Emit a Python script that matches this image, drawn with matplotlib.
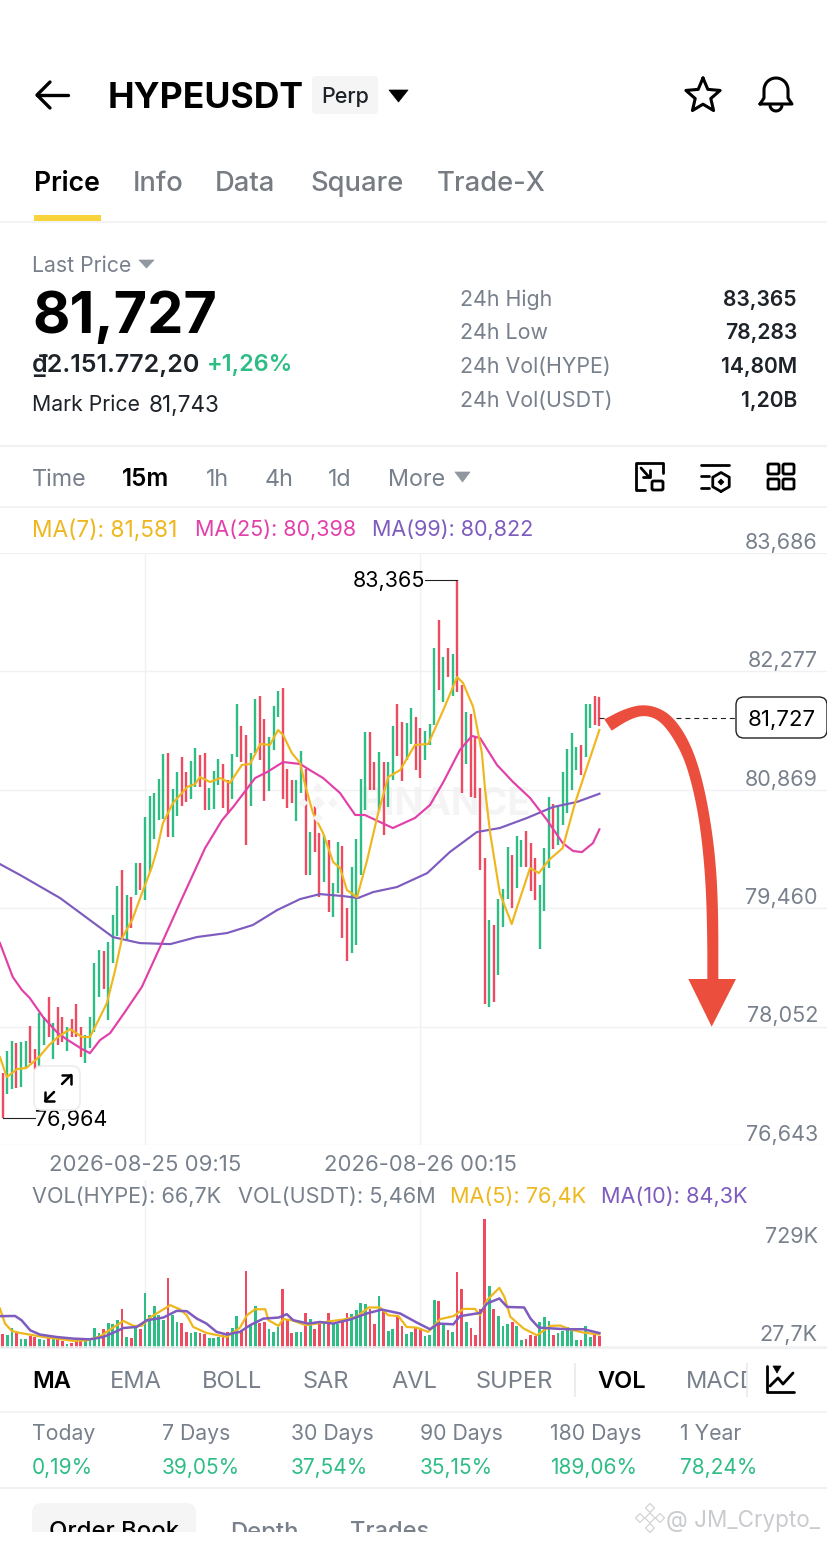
import numpy as np
import matplotlib
matplotlib.use("Agg")
import matplotlib.pyplot as plt
from matplotlib.patches import FancyBboxPatch, Polygon, Rectangle

plt.rcParams['font.family'] = ['Inter', 'DejaVu Sans']

# ---------- data ----------
candle_colors = ("rggrggrrgg" "rgrrgrrrgg" "ggrgggrgrg" "rgggggrggr" "rggrrgggrr"
                 "ggrrggrrgg" "grrrggrgrr" "grggrrgggg" "rrgrggrrgg" "rrgggrgrgr"
                 "rgrrrrgrgg" "grggrrrggg" "rgggggrggrr")
highs = [77498,77760,77879,77855,77867,77879,78058,77784,78212,78165,
         78403,78093,78284,78165,78046,78141,78319,78046,77950,78165,
         78807,78962,78950,79057,79378,79724,79914,79616,79593,79997,
         79997,80545,80795,80830,80997,81294,81306,80878,81080,81259,
         81080,81211,81366,81282,81306,80890,81092,81235,81175,80985,
         81294,81889,81628,81520,81306,81949,81985,81711,81497,81866,
         82044,82080,81116,80985,80985,81330,81116,80366,80711,80354,
         80330,80271,79759,80247,80200,79462,79950,80283,80997,81556,
         81556,81199,81318,81199,81199,81628,81889,81675,81663,81842,
         81735,81604,81568,81651,82556,82889,82449,82556,82484,83365,
         82115,81794,81770,81497,80890,80057,79319,79259,79569,79688,
         80188,80092,80319,80271,80378,80235,80057,79735,80176,80783,
         80699,80664,81080,81354,81544,81378,81401,81889,81889,81985,81973]
lows = [76964,77248,77308,77320,77332,77570,77617,77534,77570,77831,
        77927,77665,77831,77867,77760,77927,77927,77689,77617,77796,
        77986,78403,78498,78129,78807,79129,79105,79081,79224,79616,
        79676,79557,79890,80283,80509,80521,80307,80307,80557,80676,
        80723,80759,80902,80902,80628,80628,80640,80925,80652,80580,
        80759,81259,81199,80211,80676,81306,81223,80735,80854,81342,
        81735,80759,80652,80711,80497,80830,79854,79854,80128,79593,
        79771,79414,79355,79640,79105,78831,78926,79021,79854,80628,
        80866,80866,80628,80330,80664,80985,81271,80973,81223,81413,
        81104,81009,81223,81401,81639,82056,81913,82211,81985,82032,
        80830,81175,80783,80771,79914,78319,78284,78343,78664,79236,
        79569,79462,79700,79950,79950,79664,79557,78974,79426,79938,
        80164,80211,80449,80592,80866,81104,81044,81259,81604,81639,81628]

ma7_idx = [-0.6,0.9,3.1,5.1,7.9,10.1,12,14.7,17.3,19,21.2,22.7,24.5,26,28.2,30.6,32.5,33.6,34.9,37.1,
           40.2,41.9,43,45.2,47.4,49.5,52.1,53.9,56.1,58.2,60,61.1,63,64.8,65.9,67.6,69.8,72,73.5,75,
           77.2,79.4,81.8,84,86.6,89.8,92.7,96,99,100.3,102.5,104.4,105.1,106.2,108.3,110.9,112,114.9,
           116.8,119,122,124.7,127.3,130]
ma7_val = [77689,77451,77546,77558,77689,77831,77927,78022,77927,77927,78165,78331,78724,79105,79319,79676,79950,80152,80473,80711,
           80902,80937,81021,80961,81009,80950,81164,81176,81414,81402,81580,81520,81306,81187,80925,80592,80354,80009,79938,79676,
           79592,80033,80592,81021,81104,81402,81414,81818,82211,82139,81854,81306,80866,80354,79640,79271,79462,79938,
           79878,80033,80176,80711,81140,81581]
ma25_idx = [-0.6,2.2,4.2,5.9,8.8,12,14.2,17.3,19,21.2,23.4,26.6,30.3,34.3,38.6,44.1,47.8,50.2,55,57.6,
            61.1,64.8,66.9,69.8,73.5,76.8,78.9,85,89.8,93.1,96,99.6,102.2,104,107.7,111.2,114.9,118.6,122,124.3,126.2,128.6,130]
ma25_val = [79045,78641,78486,78391,78165,77974,77891,77784,77736,77891,77974,78224,78522,79000,79521,80176,80509,80664,81009,81080,
            81199,81176,81104,81009,80830,80569,80569,80414,80533,80688,80961,81342,81509,81485,81164,80961,80771,80509,80235,80140,80128,80235,80398]
ma99_idx = [-0.6,3.8,12.5,18.4,24,29.9,36.5,42.3,48.9,54.5,59.8,64.8,69.1,74.1,77.4,80.7,85.9,92.5,97.4,103.3,108.3,114.2,119.9,125.1,130]
ma99_val = [79985,79855,79581,79343,79117,79045,79033,79117,79165,79260,79438,79569,79628,79605,79581,79652,79712,79878,80128,80366,80414,80533,80664,80724,80822]

volumes = [81,72,115,91,49,49,66,62,53,47,57,53,66,40,25,30,40,53,40,43,
           115,85,106,144,134,157,221,62,57,115,110,312,185,236,189,161,395,185,147,142,
           91,85,91,85,81,55,55,62,72,93,115,180,104,437,129,236,144,147,106,91,
           119,331,161,87,91,89,198,163,110,138,147,198,134,138,157,200,191,214,257,246,
           223,134,295,214,96,110,176,125,77,89,119,115,66,76,274,266,134,100,91,427,
           336,146,113,76,219,729,353,219,183,123,136,149,123,47,53,76,66,149,174,151,
           72,85,96,119,96,47,47,127,60,79,66.7]
vma5_idx = [-0.6,0.5,2,3.8,6.7,8.9,11.8,15.4,18.3,21.2,23.4,26.3,28.5,30.3,32.1,36.5,38.6,40.1,41.5,44.4,48.8,51.7,53.2,55,57.2,57.9,60.1,61.1,63,
            66,68.4,71.3,74.2,77.1,79.7,82.2,84,86.2,88,90.2,92.7,95.3,98.2,100.4,102.9,104,105.5,108.2,109.3,110.6,113.5,116.4,119.3,121.5,123.7,126.6,130]
vma5_val = [223,138,96,85,72,62,53,40,43,66,104,153,125,125,172,242,219,185,119,85,62,115,185,219,219,157,125,163,157,
            129,138,151,161,176,229,229,185,180,119,115,91,163,180,221,221,185,270,340,289,176,110,72,125,127,104,87,76.4]
vma10_idx = [-0.6,2.7,4.1,6,8.1,11.8,15.4,19,21.9,24.5,26.3,29.2,31.4,35,37.9,40.1,42.3,44.4,46.6,48.8,51.7,53.9,56.8,60.1,61.9,63.3,66.6,
             69.1,72,75.7,79.3,82.6,86.6,90.2,93.1,94.9,98.2,99.6,104,105.5,108.2,109.9,113.6,115,116.8,120.1,123,126.6,130]
vma10_val = [180,181,157,100,76,62,53,49,62,91,113,119,157,172,210,208,166,138,91,76,91,129,166,172,191,157,138,
             147,138,161,195,217,195,144,106,138,134,180,198,251,280,232,229,166,115,110,106,106,84.3]

price_ticks = [83686,82277,80869,79460,78052,76643]
price_labels = ['83,686','82,277','80,869','79,460','78,052','76,643']
date_idx = [31,91]
date_labels = ['2026-08-25 09:15','2026-08-26 00:15']
last_price = 81727
high_idx, high_val, low_idx, low_val = 99, 83365, 0, 76964

GREEN, RED = '#2EBD85', '#EE4A60'
YEL, PINK, PUR = '#EFB71E', '#E23FA9', '#7E5BBF'
GRAY, TXT, LINE = '#78808C', '#1E2329', '#F0F1F2'

W, H = 828, 1542
fig = plt.figure(figsize=(W/100, H/100), dpi=100, facecolor='white')
def rect(x0, y0, x1, y1):
    return [x0/W, 1-y1/H, (x1-x0)/W, (y1-y0)/H]
xlim = ((0-2.7)/4.59, (828-2.7)/4.59)

# ---------- price panel ----------
ax = fig.add_axes(rect(0, 553, 828, 1145))
ax.set_xlim(*xlim); ax.set_ylim(76643, 83686)
for s in ax.spines.values():
    s.set_visible(False)
ax.set_yticks(price_ticks); ax.set_yticklabels([])
ax.set_xticks(date_idx); ax.set_xticklabels(date_labels, fontsize=15.9, color=GRAY)
ax.tick_params(length=0, pad=7.5)
ax.grid(True, color=LINE, lw=1.0, zorder=0)
ax.set_axisbelow(True)
ax.text(445/828, 0.574, 'BINANCE', transform=ax.transAxes, ha='center', va='center', fontsize=27,
        fontweight='bold', color='#F4F4F4', zorder=0.5)
for tick, lab in zip(price_ticks, price_labels):
    ax.annotate(lab, xy=(818/828, tick), xycoords=('axes fraction', 'data'), xytext=(0, 7.4),
                textcoords='offset points', ha='right', va='center', fontsize=15.5, color=GRAY, annotation_clip=False)
cols = [GREEN if c == 'g' else RED for c in candle_colors]
xs = np.arange(len(highs))
ax.vlines(xs, lows, highs, colors=cols, lw=1.7, zorder=2, capstyle='butt')
ax.plot(ma99_idx, ma99_val, color=PUR, lw=1.55, zorder=3)
ax.plot(ma25_idx, ma25_val, color=PINK, lw=1.55, zorder=3)
ax.plot(ma7_idx, ma7_val, color=YEL, lw=1.55, zorder=3)
ax.hlines(last_price, 130, 131, color='#222222', lw=0.8, zorder=2)
ax.hlines(last_price, 146.7, 159.6, color='#222222', lw=0.8, linestyles=(0, (4.5, 3.5)), zorder=2)
ax.annotate('83,365', xy=(high_idx, high_val), xytext=(-23, -1), textcoords='offset points', ha='right', va='center',
            fontsize=15.5, color='black', annotation_clip=False)
ax.plot([high_idx-7, high_idx], [high_val, high_val], color='#222222', lw=0.8, zorder=2)
ax.annotate('76,964', xy=(low_idx, low_val), xytext=(23, -1.5), textcoords='offset points', ha='left', va='center',
            fontsize=15.5, color='black', annotation_clip=False, zorder=6)
ax.plot([low_idx, low_idx+7], [low_val, low_val], color='#222222', lw=0.8, zorder=2)

# ---------- volume panel ----------
vx = fig.add_axes(rect(0, 1180, 828, 1348))
vx.set_xlim(*xlim); vx.set_ylim(0, 729*168/129)
vx.set_facecolor('none')
for s in vx.spines.values():
    s.set_visible(False)
vx.spines['bottom'].set_visible(True); vx.spines['bottom'].set_color(LINE)
vx.set_yticks([]); vx.set_xticks(date_idx); vx.set_xticklabels([])
vx.tick_params(length=0)
vx.grid(True, axis='x', color=LINE, lw=1.0)
vx.set_axisbelow(True)
vx.bar(xs, volumes, width=0.6, color=cols, zorder=2)
vx.plot(vma5_idx, vma5_val, color=YEL, lw=1.6, zorder=3)
vx.plot(vma10_idx, vma10_val, color=PUR, lw=1.8, zorder=4)

# ---------- screen furniture, in pixel coordinates ----------
ui = fig.add_axes([0, 0, 1, 1], zorder=10)
ui.set_xlim(0, W); ui.set_ylim(H, 0); ui.axis('off'); ui.patch.set_alpha(0)

def T(x, y, s, size=16, color=TXT, w='normal', ha='left', **k):
    return ui.text(x, y, s, fontsize=size, color=color, fontweight=w, ha=ha, va='center_baseline', **k)
def L(pts, lw=2.0, c='black', **k):
    p = np.array(pts, float)
    ui.plot(p[:, 0], p[:, 1], color=c, lw=lw, solid_capstyle=k.pop('cap', 'round'), solid_joinstyle='round', **k)
def RB(x0, y0, x1, y1, r=5, fc='white', ec='none', lw=1, z=5, **k):
    ui.add_patch(FancyBboxPatch((x0+r, y0+r), x1-x0-2*r, y1-y0-2*r, boxstyle=f'round,pad={r},rounding_size={r}',
                                fc=fc, ec=ec, lw=lw, zorder=z, **k))
def TRI(pts, c):
    ui.add_patch(Polygon(pts, closed=True, fc=c, ec=c, lw=0.5, joinstyle='round'))
def HL(y, lw=1.2, c=LINE):
    ui.plot([0, W], [y, y], color=c, lw=lw)

# header
L([(37, 95), (68, 95)], 2.4); L([(50, 82), (37, 95), (50, 108)], 2.4)
T(108, 95, 'HYPEUSDT', 25.6, 'black', 'bold')
RB(312, 76, 378, 114, 4, '#F5F5F5', z=1)
T(345, 95, 'Perp', 15.5, TXT, 'medium', ha='center')
TRI([(389, 90), (408, 90), (398.5, 102)], 'black')
a = np.linspace(-np.pi/2, 1.5*np.pi, 11)
r = np.where(np.arange(11) % 2 == 0, 18, 8.2)
L(np.c_[703+r*np.cos(a), 96+r*np.sin(a)], 2.2)
t = np.linspace(np.pi, 2*np.pi, 30)
bell = np.r_[[[760, 104]], [[764, 98], [764, 92]], np.c_[776+12*np.cos(t), 90+12*np.sin(t)], [[788, 98], [792, 104], [760, 104]]]
L(bell, 2.2)
t = np.linspace(0, np.pi, 12)
L(np.c_[776+6*np.cos(t), 105+6*np.sin(t)], 2.2)

# tabs
T(34, 181, 'Price', 19.2, 'black', 'semibold')
for x, s in zip([133, 215, 310, 437], ['Info', 'Data', 'Square', 'Trade-X']):
    T(x, 181, s, 19.7, '#777C82', 'medium')
ui.add_patch(Rectangle((34, 215), 67, 6, fc='#F9D33C', ec='none', zorder=3))
HL(221.5)

# summary
T(32, 264, 'Last Price', 15.3, GRAY)
TRI([(139, 260), (154, 260), (146.5, 268)], '#90979F')
T(32, 312, '81,727', 41.5, 'black', 'bold')
T(32, 363, '₫2.151.772,20', 18, TXT, 'semibold')
T(207, 363, '+1,26%', 16.9, GREEN, 'semibold')
T(32, 403, 'Mark Price', 15.3, TXT)
T(149, 403, '81,743', 16.2, TXT)
for y, lab, val in zip([298, 331, 365, 399], ['24h High', '24h Low', '24h Vol(HYPE)', '24h Vol(USDT)'],
                       ['83,365', '78,283', '14,80M', '1,20B']):
    T(460, y, lab, 15.4, GRAY)
    T(797, y, val, 15.2, TXT, 'semibold', ha='right')
HL(446, 1.6)

# interval row
for x, s in zip([32, 206, 265, 328, 388], ['Time', '1h', '4h', '1d', 'More']):
    T(x, 477, s, 16.8, GRAY)
T(122, 477, '15m', 17.5, 'black', 'semibold')
TRI([(455, 472), (470, 472), (462.5, 482)], '#90979F')
# chart tool icons
L([(645, 490), (636, 490), (636, 463), (663, 463), (663, 473)], 2)
L([(641, 468), (649, 477)], 2); L([(650, 470), (650, 477), (643, 477)], 2)
RB(652, 481, 663, 490, 1.5, 'white', 'black', 2, z=3)
L([(701, 465), (729, 465)], 2); L([(701, 476), (709, 476)], 2); L([(701, 488), (709, 488)], 2)
a = np.linspace(np.pi/2, 2.5*np.pi, 7)
L(np.c_[721+9.5*np.cos(a), 482+9.5*np.sin(a)], 2)
TRI([(721, 479), (724, 482), (721, 485), (718, 482)], 'black')
for xx in (768, 783):
    for yy in (464, 479):
        RB(xx, yy, xx+11, yy+10, 1.5, 'white', 'black', 2, z=3)
HL(507, 1.2)

# legend rows
for x, s, c, sz in zip([32, 195, 372], ['MA(7): 81,581', 'MA(25): 80,398', 'MA(99): 80,822'], [YEL, PINK, PUR], [16.3, 15.5, 15.5]):
    T(x, 528, s, sz, c)
for x, s, c in zip([32, 238, 450, 601],
                   ['VOL(HYPE): 66,7K', 'VOL(USDT): 5,46M', 'MA(5): 76,4K', 'MA(10): 84,3K'], [GRAY, GRAY, YEL, PUR]):
    T(x, 1195, s, 15.6, c)
T(818, 1235, '729K', 15.5, GRAY, ha='right')
T(818, 1333, '27,7K', 15.5, GRAY, ha='right')

# last price box
RB(736, 697, 827, 738, 8, 'white', '#222222', 1.0)
T(782, 718, '81,727', 16, 'black', ha='center', zorder=6)

# expand button
RB(34, 1066, 80, 1110, 8, (1, 1, 1, 0.85), '#EDEDED', 1.2, z=4)
L([(45, 1101), (54, 1092)], 1.8, zorder=6); L([(62, 1084), (71, 1075)], 1.8, zorder=6)
L([(62, 1075), (71, 1075), (71, 1084)], 1.8, zorder=6)
L([(45, 1092), (45, 1101), (54, 1101)], 1.8, zorder=6)

# watermark logo
for cx, cy, s in [(318, 803, 7), (303, 803, 5), (333, 803, 5), (318, 788, 5), (318, 818, 5)]:
    ui.add_patch(Polygon([(cx-s, cy), (cx, cy-s), (cx+s, cy), (cx, cy+s)], fc='#F4F4F4', ec='none', zorder=0))

# red arrow
def chaikin(p, n=3):
    p = np.array(p, float)
    for _ in range(n):
        q = np.empty((2*len(p)-2, 2))
        q[0::2] = .75*p[:-1]+.25*p[1:]
        q[1::2] = .25*p[:-1]+.75*p[1:]
        p = np.r_[[p[0]], q, [p[-1]]]
    return p
outer = chaikin([(43,118),(100,88),(160,72),(220,88),(265,130),(305,200),(335,290),(360,410),(378,550),(385,700),(385,897)])
inner = chaikin([(65,152),(115,120),(160,105),(205,118),(245,165),(285,240),(315,350),(335,470),(348,620),(352,780),(352,897)])
head = np.array([(295,897),(438,897),(365,1040)], float)
shape = np.r_[outer, head[[1, 2, 0]], inner[::-1]]
shape = shape/3 + [590, 680]
ui.add_patch(Polygon(shape, closed=True, fc='#EC4E3D', ec='none', zorder=8))

# indicator row
HL(1347, 1.2)
T(32, 1380, 'MA', 17, 'black', 'semibold')
for x, s in zip([110, 202, 303, 391, 476, 686], ['EMA', 'BOLL', 'SAR', 'AVL', 'SUPER', 'MACD']):
    T(x, 1380, s, 17, GRAY)
T(597, 1380, 'VOL', 17, 'black', 'semibold')
ui.add_patch(Rectangle((747, 1358), 20, 44, fc='white', ec='none', zorder=3))
ui.plot([575, 575], [1364, 1396], color='#E8E9EA', lw=1.2)
ui.plot([747, 747], [1364, 1396], color='#E8E9EA', lw=1.2, zorder=4)
L([(767, 1366), (767, 1392), (794, 1392)], 2, zorder=4)
L([(770, 1386), (778, 1378), (783, 1384), (793, 1373)], 2, zorder=4)
TRI([(773, 1366), (781, 1366), (777, 1373)], 'black')
HL(1412, 1.2)

# returns
xs_ret = [32, 162, 291, 420, 550, 680]
for x, s, v in zip(xs_ret, ['Today', '7 Days', '30 Days', '90 Days', '180 Days', '1 Year'],
                   ['0,19%', '39,05%', '37,54%', '35,15%', '189,06%', '78,24%']):
    T(x, 1432, s, 15.3, GRAY)
    T(x, 1466, v, 15, GREEN)
HL(1487.5, 1.6)

# order book tabs, cut off by the screenshot edge
RB(32, 1503, 196, 1545, 10, '#F5F5F5', z=1)
T(49, 1530, 'Order Book', 17.2, 'black', 'medium')
T(230, 1530, 'Depth', 17.2, GRAY, 'medium')
T(350, 1530, 'Trades', 17, GRAY, 'medium')
ui.add_patch(Rectangle((0, 1532), W, 12, fc='white', ec='none', zorder=7))

# screenshot watermark
T(666, 1518, '@ JM_Crypto_', 16.2, '#C9CBCE', zorder=8)
for cx, cy, s in [(650, 1518, 5), (640, 1518, 4.5), (660, 1518, 4.5), (650, 1508, 4.5), (650, 1528, 4.5)]:
    ui.add_patch(Polygon([(cx-s, cy), (cx, cy-s), (cx+s, cy), (cx, cy+s)], fc='white', ec='#CFCFCF', lw=0.8, zorder=8))

fig.savefig('out.png', dpi=100)
